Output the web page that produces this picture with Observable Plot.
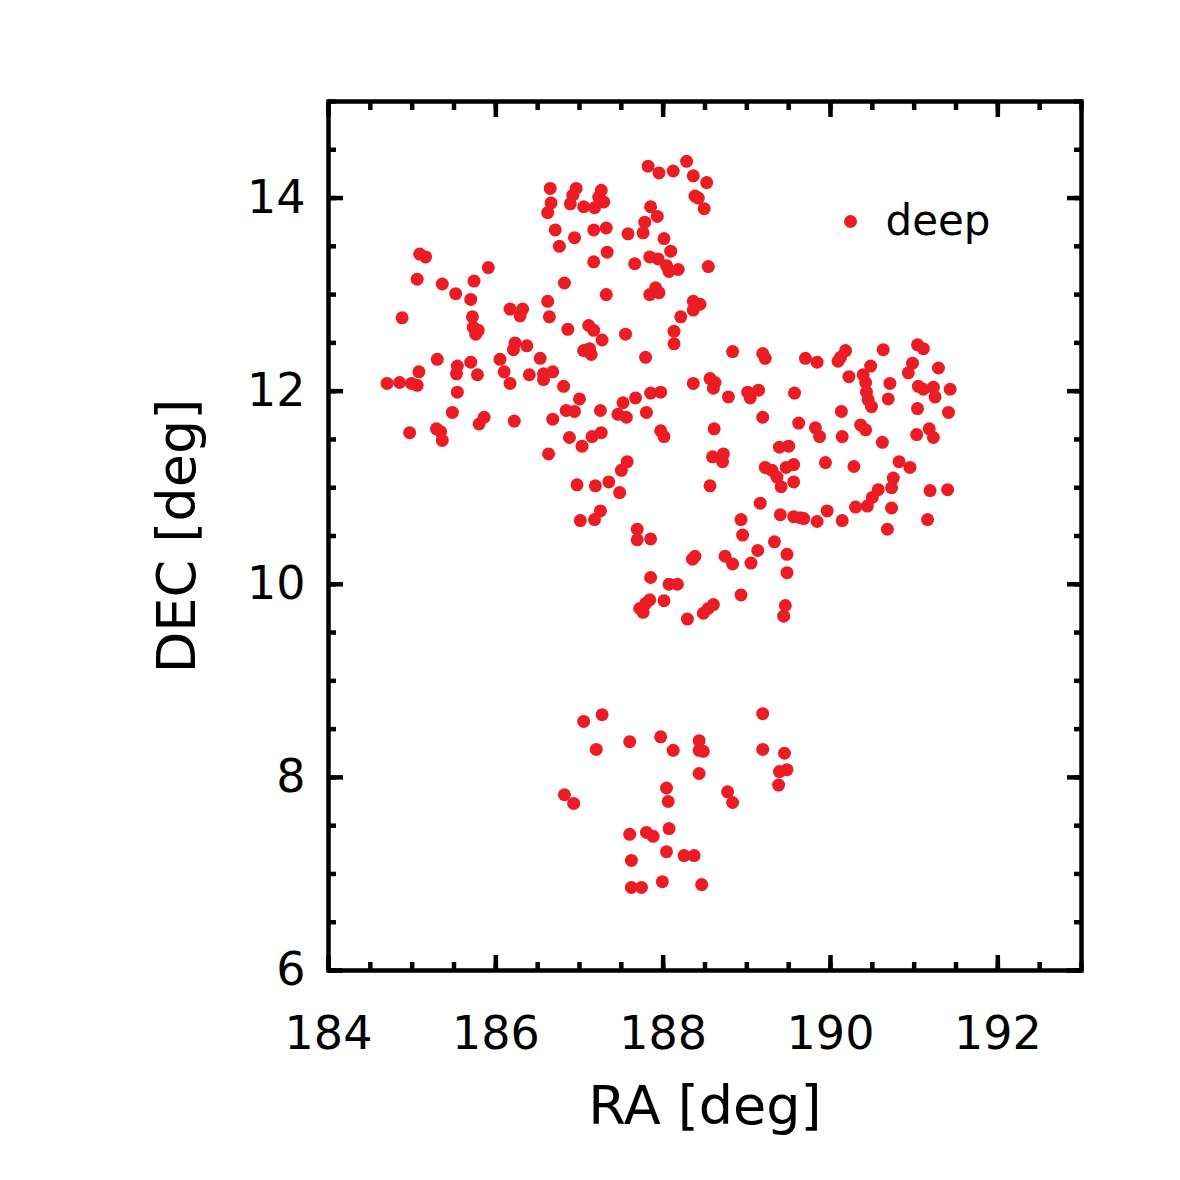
<!DOCTYPE html>
<html>
<head>
<meta charset="utf-8">
<script src="https://cdn.jsdelivr.net/npm/d3@7"></script>
<script src="https://cdn.jsdelivr.net/npm/@observablehq/plot@0.6"></script>
<style>
  html, body { margin: 0; padding: 0; background: #ffffff; }
  #chart { width: 1180px; height: 1180px; }
</style>
</head>
<body>
<div id="chart"></div>
<script>
// Right ascension [deg] of each "deep" field source
const ra = [
  186.65,186.66,186.62,186.89,186.71,186.76,186.94,186.96,186.92,187.26,187.23,187.29,187.18,187.05,
  187.82,187.95,188.12,188.28,188.36,188.52,188.38,188.42,188.49,187.85,187.93,187.78,187.76,187.58,
  187.17,187.32,188.01,188.09,187.33,187.17,187.66,187.84,187.94,188.04,188.07,188.18,188.54,186.82,
  187.32,187.84,187.91,187.95,188.36,188.44,188.36,188.21,186.86,187.11,187.17,187.27,187.55,187.05,
  187.12,187.14,188.13,188.13,187.79,188.83,189.19,189.22,
  185.09,185.16,185.91,185.06,185.36,185.74,185.52,185.70,184.88,185.72,185.73,185.79,185.76,186.17,
  186.32,186.29,186.62,186.64,186.23,186.37,186.21,186.53,185.30,185.70,185.54,185.53,186.05,185.08,
  185.78,186.10,186.40,186.57,186.68,186.57,184.70,184.85,184.99,185.06,186.17,186.81,185.54,186.84,
  185.48,185.86,185.80,186.22,186.68,184.97,185.29,185.34,185.36,186.88,186.63,
  187.00,186.94,187.25,187.52,187.67,187.85,187.97,187.46,187.56,187.80,188.36,188.56,188.62,188.60,
  188.78,189.01,189.04,189.14,187.15,187.26,187.03,187.97,188.01,188.61,188.59,188.72,188.71,187.57,
  187.50,186.97,187.19,187.35,187.48,188.56,187.25,187.18,187.01,187.69,187.69,187.85,188.93,188.95,
  189.19,189.16,189.70,189.84,190.18,190.12,190.09,190.63,191.04,191.11,190.98,190.93,191.29,190.48,
  190.22,190.39,190.42,190.43,190.45,190.49,190.71,190.69,189.57,191.05,191.11,191.23,191.25,191.43,
  191.04,191.41,190.13,189.62,189.82,189.87,190.14,190.36,190.42,190.62,191.03,191.18,191.23,189.39,
  189.50,189.94,190.28,189.22,189.30,189.36,189.41,189.47,189.56,189.56,190.82,190.95,190.75,190.73,
  190.57,190.50,190.44,191.19,191.40,189.40,189.56,189.64,189.68,189.84,189.96,190.14,190.30,190.73,
  191.16,190.68,189.33,
  189.13,189.48,188.38,188.35,188.74,188.83,189.05,189.48,187.85,188.07,188.17,187.84,187.79,187.72,
  187.76,188.01,188.93,189.46,189.44,188.29,188.48,188.54,188.60,
  187.05,187.27,187.20,187.60,187.97,188.12,188.43,188.43,188.48,188.43,189.19,189.19,189.45,189.39,
  189.48,189.38,186.82,186.93,188.04,188.06,188.77,188.83,187.60,187.80,187.88,188.07,188.04,188.25,
  188.37,187.62,187.62,187.74,187.99,188.46
];
// Declination [deg] of the same sources, same order
const dec = [
  14.10,13.95,13.85,13.94,13.67,13.50,13.59,14.10,14.03,14.08,14.01,13.96,13.90,13.91,
  14.33,14.26,14.28,14.38,14.23,14.16,14.02,14.00,13.89,13.91,13.81,13.75,13.64,13.63,
  13.67,13.69,13.58,13.45,13.44,13.34,13.32,13.39,13.37,13.30,13.24,13.26,13.29,13.12,
  13.00,13.00,13.07,13.02,12.93,12.90,12.84,12.77,12.64,12.68,12.63,12.53,12.59,12.42,
  12.44,12.38,12.62,12.49,12.35,12.41,12.39,12.34,
  13.42,13.39,13.28,13.16,13.11,13.14,13.01,12.95,12.76,12.77,12.66,12.63,12.59,12.85,
  12.85,12.78,12.93,12.77,12.50,12.47,12.43,12.34,12.33,12.30,12.26,12.18,12.33,12.20,
  12.17,12.20,12.17,12.18,12.20,12.12,12.08,12.09,12.08,12.06,12.08,12.05,11.99,11.80,
  11.78,11.73,11.66,11.69,11.71,11.57,11.61,11.58,11.49,11.52,11.35,
  11.92,11.79,11.80,11.88,11.93,11.98,11.99,11.76,11.73,11.78,12.08,12.13,12.09,12.03,
  11.94,11.99,11.93,12.01,11.53,11.57,11.43,11.59,11.53,11.61,11.32,11.35,11.27,11.27,
  11.18,11.03,11.02,11.06,10.95,11.02,10.76,10.67,10.66,10.57,10.46,10.47,10.67,10.51,
  11.73,10.84,12.34,12.30,12.42,12.35,12.31,12.43,12.48,12.44,12.29,12.19,12.24,12.26,
  12.15,12.17,12.09,11.99,11.91,11.84,12.08,11.92,11.98,12.05,12.02,12.04,11.94,12.02,
  11.82,11.78,11.79,11.67,11.62,11.53,11.53,11.65,11.60,11.47,11.55,11.61,11.52,11.42,
  11.43,11.26,11.22,11.21,11.18,11.11,11.01,11.21,11.24,11.06,11.27,11.21,11.10,11.00,
  10.98,10.90,10.81,10.97,10.98,10.72,10.70,10.69,10.68,10.65,10.76,10.66,10.80,10.79,
  10.67,10.57,10.44,
  10.35,10.31,10.29,10.26,10.29,10.21,10.22,10.12,10.07,10.00,10.00,9.84,9.80,9.75,
  9.71,9.83,9.89,9.78,9.67,9.64,9.70,9.75,9.79,
  8.58,8.65,8.29,8.37,8.42,8.28,8.38,8.28,8.27,8.04,8.66,8.29,8.25,8.06,
  8.08,7.92,7.82,7.73,7.89,7.75,7.85,7.74,7.41,7.43,7.39,7.47,7.23,7.19,
  7.19,7.14,6.86,6.86,6.92,6.89
];

const seriesName = "deep";
const xDomain = [184, 193];
const yDomain = [6, 15];
const xMajorTicks = [184, 186, 188, 190, 192];
const yMajorTicks = [6, 8, 10, 12, 14];
const xMinorTicks = d3.range(184, 193.001, 0.5);
const yMinorTicks = d3.range(6, 15.001, 0.5);

const points = ra.map((x, i) => ({ra: x, dec: dec[i]}));

const red = "#eb1c24";
const sw = 4.5;
const intFmt = d3.format("d");

const chart = Plot.plot({
  width: 1180,
  height: 1180,
  marginLeft: 328,
  marginRight: 99,
  marginTop: 101,
  marginBottom: 210,
  x: {domain: xDomain},
  y: {domain: yDomain},
  style: {fontFamily: "'DejaVu Sans', sans-serif", fontSize: "46px", background: "#ffffff", color: "#000000"},
  marks: [
    Plot.dot(points, {x: "ra", y: "dec", r: 6.5, fill: red, stroke: "none"}),
    // tick labels
    Plot.axisX(xMajorTicks, {anchor: "bottom", tickSize: 0, tickPadding: 46, tickFormat: intFmt, label: null, fontSize: 46}),
    Plot.axisY(yMajorTicks, {anchor: "left", tickSize: 0, tickPadding: 23, tickFormat: intFmt, label: null, fontSize: 46}),
    // axis titles (label only)
    Plot.axisX([], {anchor: "bottom", tickSize: 0, label: "RA [deg]", labelAnchor: "center", labelArrow: "none", labelOffset: 153, fontSize: 54}),
    Plot.axisY([], {anchor: "left", tickSize: 0, label: "DEC [deg]", labelAnchor: "center", labelArrow: "none", labelOffset: 172, fontSize: 54}),
    // inward ticks, all four sides
    Plot.axisX(xMinorTicks, {anchor: "bottom", tickSize: -8, strokeWidth: sw, tickFormat: () => "", label: null}),
    Plot.axisX(xMajorTicks, {anchor: "bottom", tickSize: -15, strokeWidth: sw, tickFormat: () => "", label: null}),
    Plot.axisX(xMinorTicks, {anchor: "top", tickSize: -8, strokeWidth: sw, tickFormat: () => "", label: null}),
    Plot.axisX(xMajorTicks, {anchor: "top", tickSize: -15, strokeWidth: sw, tickFormat: () => "", label: null}),
    Plot.axisY(yMinorTicks, {anchor: "left", tickSize: -8, strokeWidth: sw, tickFormat: () => "", label: null}),
    Plot.axisY(yMajorTicks, {anchor: "left", tickSize: -15, strokeWidth: sw, tickFormat: () => "", label: null}),
    Plot.axisY(yMinorTicks, {anchor: "right", tickSize: -8, strokeWidth: sw, tickFormat: () => "", label: null}),
    Plot.axisY(yMajorTicks, {anchor: "right", tickSize: -15, strokeWidth: sw, tickFormat: () => "", label: null}),
    Plot.frame({stroke: "#000000", strokeWidth: sw}),
    // legend
    Plot.dot([seriesName], {frameAnchor: "top-right", dx: -231, dy: 120, r: 6.5, fill: red, stroke: "none"}),
    Plot.text([seriesName], {text: d => d, frameAnchor: "top-right", dx: -196, dy: 120, textAnchor: "start", lineAnchor: "middle", fontSize: 42, fill: "#000000"})
  ]
});

document.getElementById("chart").appendChild(chart);
</script>
</body>
</html>
